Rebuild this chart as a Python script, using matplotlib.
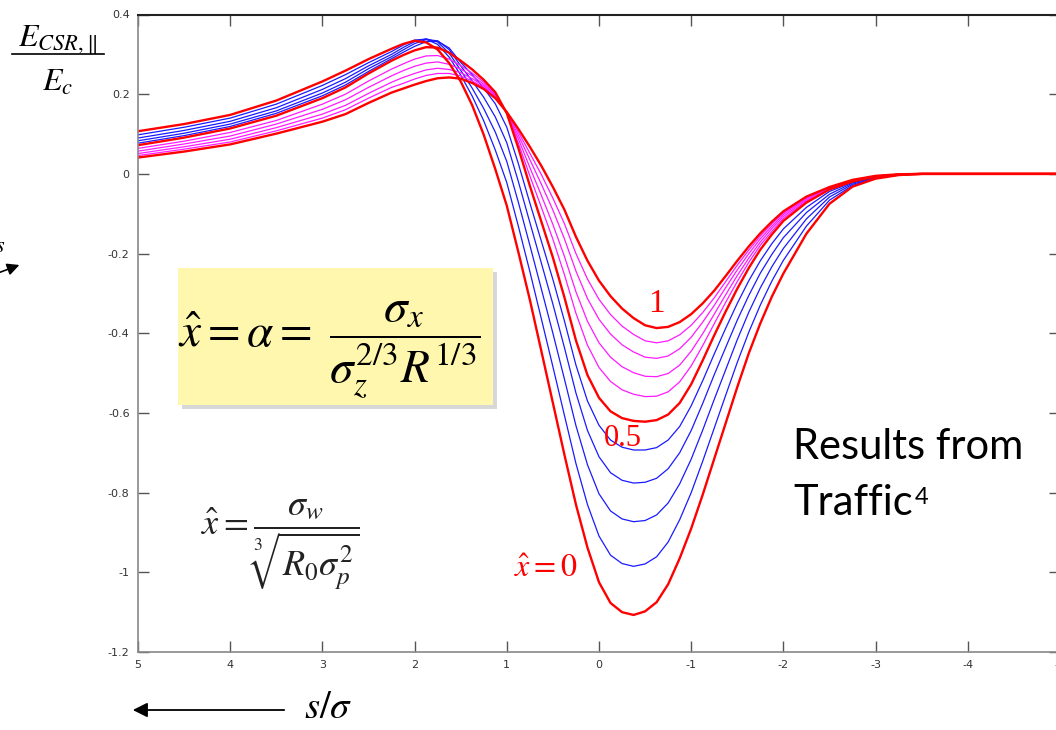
import matplotlib
matplotlib.use("Agg")
import matplotlib.pyplot as plt
from matplotlib.lines import Line2D
from matplotlib.patches import Rectangle

plt.rcParams['mathtext.fontset'] = 'stix'
plt.rcParams['axes.unicode_minus'] = False

# s/sigma sample positions
s = [5, 4.5, 4, 3.5, 3, 2.75, 2.5, 2.25, 2.125, 2, 1.875, 1.75, 1.625, 1.5, 1.375, 1.25,
     1.125, 1, 0.875, 0.75, 0.625, 0.5, 0.375, 0.25, 0.125, 0, -0.125, -0.25, -0.375,
     -0.5, -0.625, -0.75, -0.875, -1, -1.125, -1.25, -1.375, -1.5, -1.625, -1.75, -1.875,
     -2, -2.25, -2.5, -2.75, -3, -3.25, -3.5, -4, -5]

# x_hat = 0 (red)
e_00 = [0.107, 0.125, 0.148, 0.184, 0.232, 0.259, 0.288, 0.314, 0.326, 0.334, 0.330, 0.312,
        0.278, 0.232, 0.172, 0.098, 0.012, -0.080, -0.196, -0.316, -0.445, -0.575, -0.705,
        -0.830, -0.938, -1.025, -1.077, -1.100, -1.107, -1.098, -1.075, -1.030, -0.965,
        -0.890, -0.805, -0.715, -0.625, -0.535, -0.450, -0.375, -0.308, -0.250, -0.150,
        -0.075, -0.032, -0.012, -0.003, 0.0, 0.0, 0.0]
# x_hat = 0.1 .. 0.4 (blue)
e_01 = [0.098, 0.117, 0.140, 0.175, 0.222, 0.249, 0.279, 0.307, 0.323, 0.336, 0.338, 0.325,
        0.293, 0.248, 0.195, 0.133, 0.060, -0.022, -0.131, -0.245, -0.364, -0.484, -0.606,
        -0.727, -0.830, -0.909, -0.957, -0.978, -0.985, -0.979, -0.961, -0.924, -0.868,
        -0.800, -0.721, -0.638, -0.555, -0.473, -0.397, -0.329, -0.269, -0.217, -0.131,
        -0.066, -0.029, -0.011, -0.003, 0.0, 0.0, 0.0]
e_02 = [0.090, 0.109, 0.132, 0.166, 0.212, 0.239, 0.271, 0.300, 0.317, 0.332, 0.339, 0.331,
        0.303, 0.260, 0.215, 0.164, 0.105, 0.031, -0.071, -0.179, -0.289, -0.400, -0.515,
        -0.632, -0.730, -0.803, -0.846, -0.866, -0.873, -0.870, -0.856, -0.826, -0.778,
        -0.716, -0.643, -0.566, -0.491, -0.416, -0.347, -0.286, -0.233, -0.187, -0.113,
        -0.058, -0.026, -0.010, -0.002, 0.0, 0.0, 0.0]
e_03 = [0.083, 0.102, 0.125, 0.158, 0.203, 0.230, 0.264, 0.294, 0.311, 0.327, 0.337, 0.334,
        0.312, 0.271, 0.233, 0.192, 0.143, 0.078, -0.019, -0.122, -0.224, -0.327, -0.436,
        -0.550, -0.644, -0.710, -0.750, -0.769, -0.776, -0.774, -0.764, -0.740, -0.700,
        -0.644, -0.576, -0.504, -0.435, -0.367, -0.305, -0.249, -0.202, -0.160, -0.097,
        -0.051, -0.023, -0.009, -0.002, 0.0, 0.0, 0.0]
e_04 = [0.077, 0.096, 0.119, 0.152, 0.196, 0.223, 0.257, 0.289, 0.305, 0.320, 0.332, 0.333,
        0.316, 0.280, 0.249, 0.215, 0.176, 0.117, 0.026, -0.073, -0.169, -0.265, -0.369,
        -0.480, -0.570, -0.631, -0.668, -0.686, -0.693, -0.693, -0.687, -0.668, -0.634,
        -0.582, -0.519, -0.452, -0.387, -0.325, -0.268, -0.218, -0.175, -0.138, -0.084,
        -0.044, -0.021, -0.008, -0.002, 0.0, 0.0, 0.0]
# x_hat = 0.5 (red)
e_05 = [0.072, 0.091, 0.114, 0.146, 0.190, 0.217, 0.252, 0.284, 0.298, 0.310, 0.318, 0.317,
        0.304, 0.284, 0.262, 0.236, 0.205, 0.152, 0.065, -0.030, -0.120, -0.210, -0.310,
        -0.418, -0.505, -0.562, -0.596, -0.613, -0.620, -0.622, -0.618, -0.604, -0.575,
        -0.528, -0.468, -0.405, -0.345, -0.288, -0.236, -0.190, -0.152, -0.118, -0.072,
        -0.039, -0.019, -0.007, -0.002, 0.0, 0.0, 0.0]
# x_hat = 0.6 .. 0.9 (magenta)
e_06 = [0.064, 0.082, 0.104, 0.134, 0.175, 0.200, 0.233, 0.263, 0.276, 0.288, 0.296, 0.297,
        0.288, 0.272, 0.253, 0.230, 0.201, 0.153, 0.077, -0.005, -0.084, -0.164, -0.253,
        -0.350, -0.430, -0.486, -0.521, -0.542, -0.553, -0.559, -0.558, -0.547, -0.522,
        -0.482, -0.431, -0.376, -0.322, -0.270, -0.222, -0.179, -0.144, -0.112, -0.068,
        -0.037, -0.018, -0.006, -0.002, 0.0, 0.0, 0.0]
e_07 = [0.057, 0.075, 0.095, 0.125, 0.162, 0.186, 0.217, 0.246, 0.259, 0.270, 0.278, 0.281,
        0.275, 0.263, 0.246, 0.225, 0.198, 0.153, 0.088, 0.016, -0.054, -0.127, -0.207,
        -0.296, -0.370, -0.424, -0.460, -0.484, -0.499, -0.508, -0.509, -0.501, -0.480,
        -0.445, -0.401, -0.352, -0.303, -0.255, -0.211, -0.171, -0.137, -0.107, -0.065,
        -0.036, -0.017, -0.006, -0.001, 0.0, 0.0, 0.0]
e_08 = [0.051, 0.068, 0.087, 0.116, 0.150, 0.172, 0.202, 0.230, 0.242, 0.252, 0.261, 0.265,
        0.262, 0.254, 0.239, 0.221, 0.195, 0.154, 0.097, 0.036, -0.026, -0.091, -0.163,
        -0.244, -0.313, -0.365, -0.402, -0.429, -0.447, -0.460, -0.463, -0.457, -0.439,
        -0.410, -0.372, -0.330, -0.285, -0.241, -0.200, -0.163, -0.131, -0.102, -0.062,
        -0.035, -0.016, -0.006, -0.001, 0.0, 0.0, 0.0]
e_09 = [0.046, 0.062, 0.080, 0.108, 0.140, 0.161, 0.190, 0.217, 0.227, 0.238, 0.247, 0.252,
        0.252, 0.246, 0.233, 0.217, 0.192, 0.155, 0.105, 0.052, -0.002, -0.061, -0.125,
        -0.200, -0.264, -0.315, -0.353, -0.382, -0.403, -0.419, -0.424, -0.419, -0.404,
        -0.380, -0.348, -0.311, -0.270, -0.229, -0.191, -0.156, -0.125, -0.098, -0.059,
        -0.034, -0.016, -0.005, -0.001, 0.0, 0.0, 0.0]
# x_hat = 1 (red)
e_10 = [0.041, 0.056, 0.074, 0.101, 0.131, 0.150, 0.178, 0.204, 0.214, 0.224, 0.233, 0.240,
        0.242, 0.239, 0.228, 0.213, 0.190, 0.155, 0.113, 0.068, 0.020, -0.033, -0.090,
        -0.158, -0.218, -0.268, -0.307, -0.338, -0.362, -0.380, -0.387, -0.384, -0.372,
        -0.352, -0.325, -0.293, -0.256, -0.218, -0.182, -0.149, -0.120, -0.094, -0.057,
        -0.033, -0.015, -0.005, -0.001, 0.0, 0.0, 0.0]

blue = [e_01, e_02, e_03, e_04]
magenta = [e_06, e_07, e_08, e_09]
red = [e_00, e_05, e_10]

xticks = [5, 4, 3, 2, 1, 0, -1, -2, -3, -4, -5]
yticks = [0.4, 0.2, 0, -0.2, -0.4, -0.6, -0.8, -1, -1.2]
ylabels = ['0.4', '0.2', '0', '-0.2', '-0.4', '-0.6', '-0.8', '-1', '-1.2']

fig = plt.figure(figsize=(10.56, 7.30), dpi=100)
ax = fig.add_axes([138 / 1056, 1 - 652 / 730, 922 / 1056, 637.5 / 730])

for e in blue:
    ax.plot(s, e, color='#1a1aff', lw=0.9)
for e in magenta:
    ax.plot(s, e, color='#ff1aff', lw=0.9)
for e in red:
    ax.plot(s, e, color='#ff0000', lw=1.7)

ax.set_xlim(5, -5)
ax.set_ylim(-1.2, 0.4)
ax.set_xticks(xticks)
ax.set_xticklabels([str(t) for t in xticks])
ax.set_yticks(yticks)
ax.set_yticklabels(ylabels)
ax.tick_params(direction='in', length=8, width=1, top=True, right=True,
               labelsize=8, labelcolor='#333333', color='#555555', pad=6)
for side in ['left', 'bottom']:
    ax.spines[side].set_color('#888888')
    ax.spines[side].set_linewidth(1.2)
ax.spines['top'].set_color('#222222')
ax.spines['top'].set_linewidth(1.5)

# curve labels
ax.text(-0.62, -0.325, '1', color='#ff0000', fontsize=24,
        fontname='Liberation Serif', ha='center', va='center')
ax.text(-0.26, -0.665, '0.5', color='#ff0000', fontsize=22, fontname='Liberation Serif',
        ha='center', va='center')
ax.text(0.58, -0.99, r'$\hat{x}=0$', color='#ff0000', fontsize=23, ha='center', va='center')

# y label fraction
fig.text(58 / 1056, 1 - 40 / 730, r'$E_{CSR,\|}$', fontsize=23, ha='center', va='center')
fig.add_artist(Line2D([12 / 1056, 104 / 1056], [1 - 54 / 730, 1 - 54 / 730], color='black', lw=1.2))
fig.text(58 / 1056, 1 - 82 / 730, r'$E_c$', fontsize=23, ha='center', va='center')

# s arrow on the far left (cut off)
fig.text(0.0, 1 - 246 / 730, r'$s$', fontsize=16, ha='center', va='center')
ax.annotate('', xy=(22 / 1056, 1 - 264 / 730), xytext=(-10 / 1056, 1 - 276 / 730),
            xycoords='figure fraction', annotation_clip=False,
            arrowprops=dict(arrowstyle='-|>', color='black', lw=1.2, mutation_scale=18))

# bottom arrow with s/sigma
ax.annotate('', xy=(130 / 1056, 1 - 710 / 730), xytext=(287 / 1056, 1 - 710 / 730),
            xycoords='figure fraction', annotation_clip=False,
            arrowprops=dict(arrowstyle='-|>', color='black', lw=1.3, mutation_scale=22))
fig.text(328 / 1056, 1 - 707 / 730, r'$s/\sigma$', fontsize=28, ha='center', va='center')

# yellow box with formula
fig.add_artist(Rectangle((182 / 1056, 1 - 409 / 730), 315 / 1056, 137 / 730,
                         transform=fig.transFigure, facecolor='#b0b0b0', edgecolor='none', alpha=0.5))
fig.add_artist(Rectangle((178 / 1056, 1 - 405 / 730), 315 / 1056, 137 / 730,
                         transform=fig.transFigure, facecolor='#fff7ad', edgecolor='none'))
fig.text(329 / 1056, 1 - 350 / 730,
         r'$\hat{x}=\alpha=\ \dfrac{\sigma_x}{\sigma_z^{2/3}R^{1/3}}$',
         fontsize=34, ha='center', va='center')

# second formula
fig.text(280 / 1056, 1 - 545 / 730, r'$\hat{x}=\dfrac{\sigma_w}{\sqrt[3]{R_0\sigma_p^2}}$',
         fontsize=26, color='#222222', ha='center', va='center')

# note
fig.text(793 / 1056, 1 - 447 / 730, 'Results from', fontsize=30, fontname='Lato',
         ha='left', va='center')
t2 = fig.text(793 / 1056, 1 - 503 / 730, 'Traffic', fontsize=30, fontname='Lato',
              ha='left', va='center')
fig.canvas.draw()
bb = t2.get_window_extent()
fig.text((bb.x1 + 2) / 1056, (bb.y1 - 3) / 730, '4', fontsize=17, fontname='Lato',
         ha='left', va='top')

fig.savefig('out.png', dpi=100)
